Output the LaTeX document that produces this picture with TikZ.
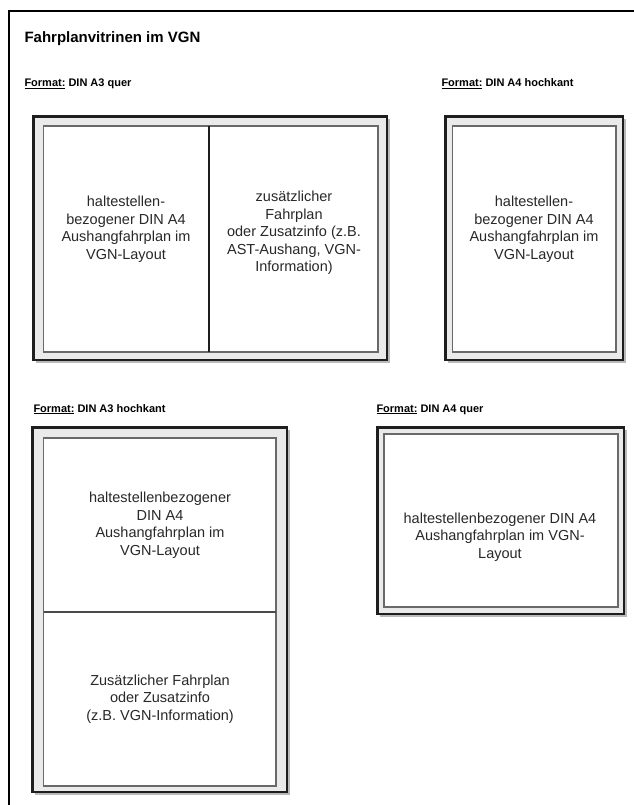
\documentclass[tikz,border=0pt]{standalone}
\usepackage{fontspec}
\setmainfont{Liberation Sans}
\usetikzlibrary{shadows}
\definecolor{framedark}{RGB}{30,30,30}
\definecolor{panelline}{RGB}{105,105,105}
\definecolor{ringfill}{RGB}{234,234,234}
\definecolor{shadowgray}{RGB}{140,140,140}
\definecolor{bodytext}{RGB}{40,40,40}
\tikzstyle{every path}=[line width=1pt]
\tikzstyle{vitrine} = [draw=framedark, line width=2.6pt, fill=ringfill,
    drop shadow={shadow xshift=2.5pt, shadow yshift=-2.5pt, fill=shadowgray, opacity=0.6}]
\tikzstyle{panel} = [draw=panelline, line width=1.2pt, fill=white]
\tikzstyle{divider} = [draw=framedark, line width=1.2pt]
\tikzstyle{boxtext} = [align=center, text=bodytext, font=\fontsize{14.5}{17.5}\selectfont]
\tikzstyle{formatlabel} = [anchor=base west, inner sep=0pt, font=\fontsize{11}{13}\selectfont\bfseries]

\begin{document}
\begin{tikzpicture}[x=1pt, y=-1pt]
            \useasboundingbox (0,0) rectangle (633,805);
            \fill[white] (0,0) rectangle (633,805);
            \draw[line width=1.6pt] (9,815) -- (9,11) -- (645,11);

            \node[anchor=base west, inner sep=0pt, font=\fontsize{15}{18}\selectfont\bfseries] (title) at (24,43)
                {Fahrplanvitrinen im VGN};

            % DIN A3 quer
            \node[formatlabel] (fmtA3quer) at (24,87) {\underline{Format:} DIN A3 quer};
            \draw[vitrine] (33.5,116.5) rectangle (387,360);
            \draw[panel] (43.5,126) rectangle (378,352);
            \draw[divider] (209,126) -- (209,352);
            \node[boxtext] (txtA3querL) at (126,229)
                {haltestellen-\\bezogener DIN A4\\Aushangfahrplan im\\VGN-Layout};
            \node[boxtext] (txtA3querR) at (294,233)
                {zusätzlicher\\Fahrplan\\oder Zusatzinfo (z.B.\\AST-Aushang, VGN-\\Information)};

            % DIN A4 hochkant
            \node[formatlabel] (fmtA4hoch) at (441,87) {\underline{Format:} DIN A4 hochkant};
            \draw[vitrine] (445.5,116.5) rectangle (623,360);
            \draw[panel] (452.5,126) rectangle (616,352);
            \node[boxtext] (txtA4hoch) at (534,229)
                {haltestellen-\\bezogener DIN A4\\Aushangfahrplan im\\VGN-Layout};

            % DIN A3 hochkant
            \node[formatlabel] (fmtA3hoch) at (33,412) {\underline{Format:} DIN A3 hochkant};
            \draw[vitrine] (32.5,427.5) rectangle (287,792);
            \draw[panel] (43.5,438) rectangle (276,786);
            \draw[divider, draw=panelline!70!black, line width=2pt] (43.5,611.5) -- (276,611.5);
            \node[boxtext] (txtA3hochO) at (160,525)
                {haltestellenbezogener\\DIN A4\\Aushangfahrplan im\\VGN-Layout};
            \node[boxtext] (txtA3hochU) at (160,699)
                {Zusätzlicher Fahrplan\\oder Zusatzinfo\\(z.B. VGN-Information)};

            % DIN A4 quer
            \node[formatlabel] (fmtA4quer) at (376,412) {\underline{Format:} DIN A4 quer};
            \draw[vitrine] (377.5,427.5) rectangle (624,614);
            \draw[panel] (384,434) rectangle (618,607);
            \node[boxtext] (txtA4quer) at (500,537)
                {haltestellenbezogener DIN A4\\Aushangfahrplan im VGN-\\Layout};
        \end{tikzpicture}
\end{document}
